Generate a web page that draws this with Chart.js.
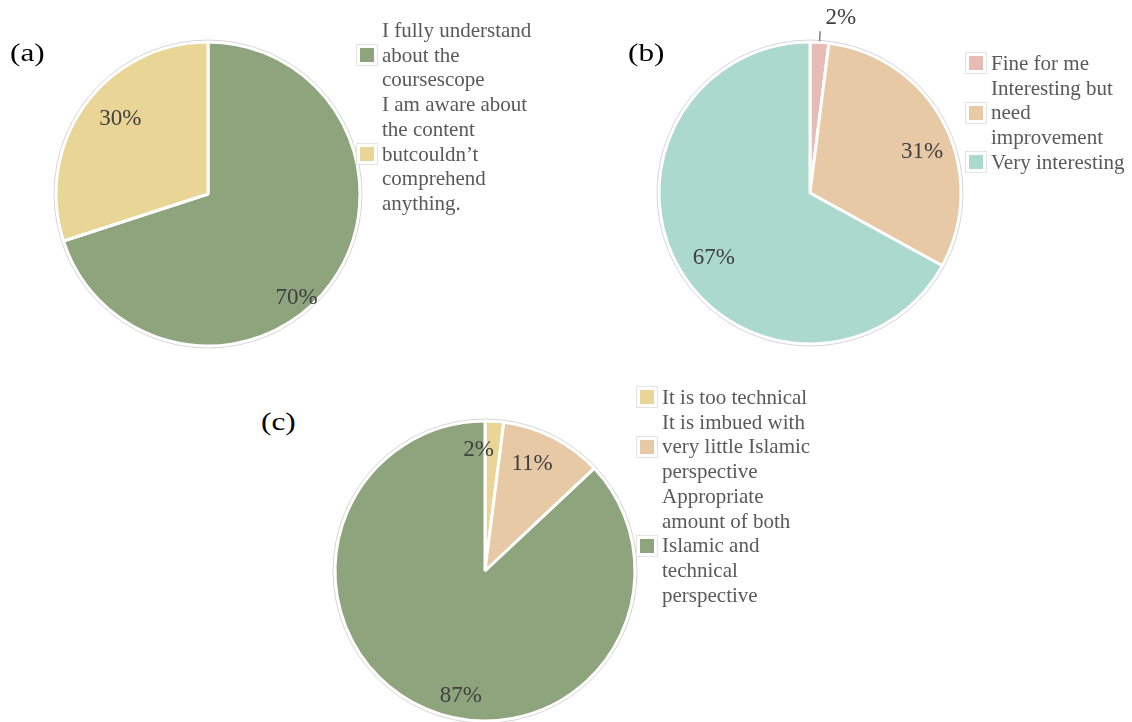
<!DOCTYPE html>
<html>
<head>
<meta charset="utf-8">
<script src="https://cdn.jsdelivr.net/npm/chart.js@4.4.1/dist/chart.umd.min.js"></script>
<style>
  html, body { margin: 0; padding: 0; background: #fff; }
  body { width: 1132px; height: 722px; overflow: hidden; position: relative;
         font-family: "Liberation Serif", "Times New Roman", serif; }
  canvas { position: absolute; }
  .tag { position: absolute; font-size: 25px; line-height: 25px; color: #000;
         transform: scaleX(1.25); transform-origin: 0 0; }
  .legend { position: absolute; color: #595959; font-size: 21px; line-height: 24.7px; white-space: nowrap; }
  .item { position: relative; }
  .swatch { position: absolute; left: -22px; top: 50%; width: 14px; height: 14px; margin-top: -7px;
            box-shadow: 0 0 0 3px #fff, 0 0 0 4px #e4e4e4; }
</style>
</head>
<body>
<canvas id="pieA" width="360" height="360" style="left:28px;top:14px"></canvas>
<canvas id="pieB" width="360" height="380" style="left:630px;top:3px"></canvas>
<canvas id="pieC" width="340" height="340" style="left:315px;top:401px"></canvas>

<div class="tag" style="left:10px;top:40px">(a)</div>
<div class="tag" style="left:628px;top:40px">(b)</div>
<div class="tag" style="left:261px;top:409px">(c)</div>

<div class="legend" id="legA" style="left:382px;top:18px"></div>
<div class="legend" id="legB" style="left:991px;top:51px"></div>
<div class="legend" id="legC" style="left:662px;top:385px"></div>

<script>
// (a) understanding of the course scope
const labelsA = [
  ["I fully understand", "about the", "coursescope"],
  ["I am aware about", "the content", "butcouldn’t", "comprehend", "anything."]
];
const valuesA = [70, 30];
const colorsA = ["#8da47c", "#e9d595"];

// (b) opinion of the course
const labelsB = [
  ["Fine for me"],
  ["Interesting but", "need", "improvement"],
  ["Very interesting"]
];
const valuesB = [2, 31, 67];
const colorsB = ["#e8bcb6", "#e7c9a5", "#abd9cd"];

// (c) balance of Islamic and technical content
const labelsC = [
  ["It is too technical"],
  ["It is imbued with", "very little Islamic", "perspective"],
  ["Appropriate", "amount of both", "Islamic and", "technical", "perspective"]
];
const valuesC = [2, 11, 87];
const colorsC = ["#e9d595", "#e7c9a5", "#8da47c"];

// percentage labels drawn at each slice, nudged like the "best fit" layout
const pctLabels = {
  id: "pctLabels",
  afterDatasetsDraw(chart, args, opts) {
    const ctx = chart.ctx;
    const meta = chart.getDatasetMeta(0);
    const values = chart.data.datasets[0].data;
    ctx.save();
    ctx.font = '23px "Liberation Serif", "Times New Roman", serif';
    ctx.fillStyle = "#404040";
    ctx.textAlign = "center";
    ctx.textBaseline = "middle";
    meta.data.forEach((arc, i) => {
      const p = arc.getProps(["x", "y", "startAngle", "endAngle", "outerRadius"], true);
      const place = opts.place[i];
      const mid = (p.startAngle + p.endAngle) / 2;
      const a = mid + place.shift * Math.PI / 180;
      if (place.leader) {
        ctx.strokeStyle = "#7f7f7f";
        ctx.lineWidth = 1.5;
        ctx.beginPath();
        ctx.moveTo(p.x + Math.cos(mid) * (p.outerRadius + 1), p.y + Math.sin(mid) * (p.outerRadius + 1));
        ctx.lineTo(p.x + Math.cos(mid) * (p.outerRadius + 11), p.y + Math.sin(mid) * (p.outerRadius + 11));
        ctx.stroke();
      }
      const r = place.r * p.outerRadius;
      ctx.fillText(values[i] + "%", p.x + Math.cos(a) * r, p.y + Math.sin(a) * r);
    });
    ctx.restore();
  }
};

// thin grey rim around the whole pie
const pieRim = {
  id: "pieRim",
  afterDatasetsDraw(chart) {
    const arc = chart.getDatasetMeta(0).data[0];
    if (!arc) return;
    const p = arc.getProps(["x", "y", "outerRadius"], true);
    const ctx = chart.ctx;
    ctx.save();
    ctx.strokeStyle = "#d6d6d6";
    ctx.lineWidth = 1;
    ctx.beginPath();
    ctx.arc(p.x, p.y, p.outerRadius + 2, 0, Math.PI * 2);
    ctx.stroke();
    ctx.restore();
  }
};

function makePie(id, labels, values, colors, radius, place) {
  return new Chart(document.getElementById(id), {
    type: "pie",
    data: {
      labels: labels,
      datasets: [{
        data: values,
        backgroundColor: colors,
        borderColor: "#ffffff",
        borderWidth: 3
      }]
    },
    options: {
      responsive: false,
      animation: false,
      radius: radius,
      layout: { padding: 0 },
      plugins: {
        legend: { display: false },
        tooltip: { enabled: false },
        pctLabels: { place: place }
      }
    },
    plugins: [pieRim, pctLabels]
  });
}

function makeLegend(id, labels, colors) {
  const box = document.getElementById(id);
  labels.forEach((lines, i) => {
    const item = document.createElement("div");
    item.className = "item";
    const sw = document.createElement("span");
    sw.className = "swatch";
    sw.style.background = colors[i];
    item.appendChild(sw);
    lines.forEach((t, k) => {
      if (k) item.appendChild(document.createElement("br"));
      item.appendChild(document.createTextNode(t));
    });
    box.appendChild(item);
  });
}

makePie("pieA", labelsA, valuesA, colorsA, 152, [
  { shift: 13.6, r: 0.90 },
  { shift: 4.6, r: 0.76 }
]);
makePie("pieB", labelsB, valuesB, colorsB, 151, [
  { shift: 6.4, r: 1.18, leader: true },
  { shift: 7, r: 0.79 },
  { shift: -3.5, r: 0.77 }
]);
makePie("pieC", labelsC, valuesC, colorsC, 150, [
  { shift: -6.6, r: 0.81 },
  { shift: -3.3, r: 0.78 },
  { shift: -12.5, r: 0.85 }
]);

makeLegend("legA", labelsA, colorsA);
makeLegend("legB", labelsB, colorsB);
makeLegend("legC", labelsC, colorsC);
</script>
</body>
</html>
